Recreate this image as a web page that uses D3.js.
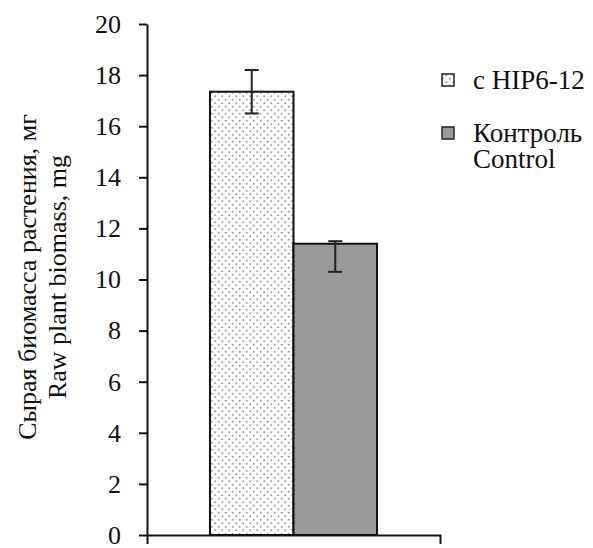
<!DOCTYPE html>
<html><head><meta charset="utf-8">
<script src="https://cdn.jsdelivr.net/npm/d3@7"></script>
</head><body style="margin:0">
<script>
const categories = ["c HIP6-12", "Контроль"];
const legendLabels = [["c HIP6-12"], ["Контроль", "Control"]];
const values = [17.35, 11.4];
const errUpper = [18.2, 11.5];
const errLower = [16.5, 10.3];
const yTicks = [0, 2, 4, 6, 8, 10, 12, 14, 16, 18, 20];
const yTitle = ["Сырая биомасса растения, мг", "Raw plant biomass, mg"];

(function () {
const FONT = "Times New Roman";
const W = 593, H = 548;
const svg = d3.select("body").append("svg").attr("width", W).attr("height", H);
const defs = svg.append("defs");
const pat = defs.append("pattern").attr("id", "dots").attr("patternUnits", "userSpaceOnUse")
  .attr("width", 7).attr("height", 7);
pat.append("rect").attr("width", 7).attr("height", 7).attr("fill", "#fff");
pat.append("circle").attr("cx", 1.75).attr("cy", 1.75).attr("r", 1).attr("fill", "#999");
pat.append("circle").attr("cx", 5.25).attr("cy", 5.25).attr("r", 1).attr("fill", "#999");
const fills = ["url(#dots)", "#9a9a9a"];

const mL = 147, mR = 440, mT = 24, mB = 535;
const y = d3.scaleLinear().domain([0, 20]).range([mB, mT]);
const x0 = d3.scaleBand().domain(["g"]).range([mL, mR]).paddingInner(0).paddingOuter(0.377);
const x1 = d3.scaleBand().domain(categories).range([0, x0.bandwidth()]).padding(0);
const g = svg.append("g").attr("transform", `translate(${x0("g")},0)`);

g.selectAll("rect.bar").data(categories).join("rect").attr("class", "bar")
  .attr("x", d => x1(d)).attr("width", x1.bandwidth())
  .attr("y", (d, i) => y(values[i])).attr("height", (d, i) => y(0) - y(values[i]))
  .attr("fill", (d, i) => fills[i]).attr("stroke", "#111").attr("stroke-width", 2);

const eb = g.selectAll("g.eb").data(categories).join("g").attr("class", "eb")
  .attr("transform", d => `translate(${x1(d) + x1.bandwidth() / 2},0)`)
  .attr("stroke", "#222").attr("stroke-width", 2);
eb.append("line").attr("y1", (d, i) => y(errUpper[i])).attr("y2", (d, i) => y(errLower[i]));
eb.append("line").attr("x1", -7).attr("x2", 7).attr("y1", (d, i) => y(errUpper[i])).attr("y2", (d, i) => y(errUpper[i]));
eb.append("line").attr("x1", -7).attr("x2", 7).attr("y1", (d, i) => y(errLower[i])).attr("y2", (d, i) => y(errLower[i]));

const ya = svg.append("g").attr("transform", `translate(${mL},0)`)
  .call(d3.axisLeft(y).tickValues(yTicks).tickSize(8).tickSizeOuter(0).tickPadding(18).tickFormat(d3.format("d")));
ya.attr("font-family", FONT).attr("font-size", 26);
ya.selectAll("path,line").attr("stroke", "#111").attr("stroke-width", 2);
ya.selectAll("text").attr("fill", "#111").attr("font-family", FONT);

const xa = svg.append("g").attr("transform", `translate(0,${mB})`)
  .call(d3.axisBottom(d3.scaleLinear().range([mL, mR])).tickValues([]).tickSizeOuter(9));
xa.selectAll("path").attr("stroke", "#111").attr("stroke-width", 2);

const yt = svg.append("text").attr("transform", "translate(42,277) rotate(-90)")
  .attr("text-anchor", "middle").attr("font-size", 26).attr("font-family", FONT).attr("fill", "#111");
yTitle.forEach((t, i) => yt.append("tspan").attr("x", 0).attr("y", i === 0 ? -6 : 24).text(t));

const ly = [80, 133];
categories.forEach((c, i) => {
  svg.append("rect").attr("x", 442).attr("y", ly[i] - 6).attr("width", 12).attr("height", 12)
    .attr("fill", fills[i]).attr("stroke", "#222").attr("stroke-width", 1.5);
  legendLabels[i].forEach((s, j) => svg.append("text").attr("x", 473).attr("y", ly[i] + 9 + j * 26)
    .attr("font-family", FONT).attr("font-size", 27).attr("fill", "#111").text(s));
});
})();
</script>
</body></html>
